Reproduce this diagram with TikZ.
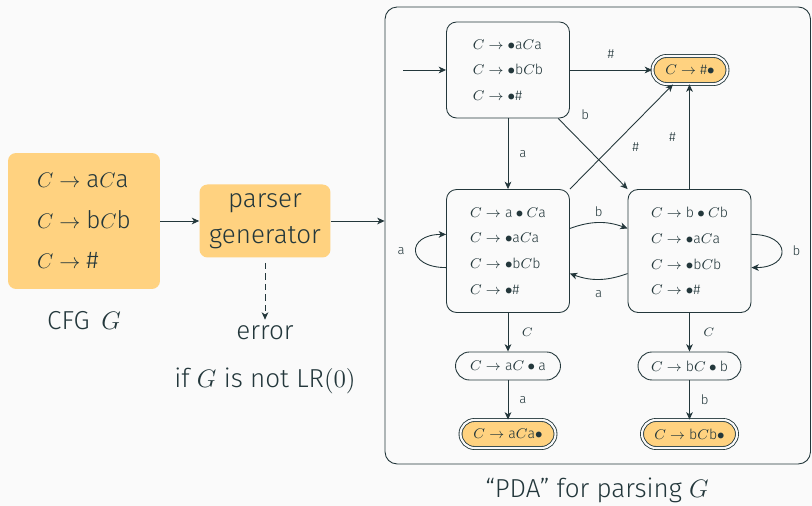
\documentclass[tikz,border=0pt]{standalone}
\usepackage{amsmath}
\usepackage{fontspec}
\setmainfont{Fira Sans Light}
\usetikzlibrary{arrows.meta, positioning}
\DeclareMathSizes{14.8}{14}{10}{7}
\DeclareMathSizes{13.8}{12.8}{9}{7}

\definecolor{mdark}{HTML}{23373B}
\definecolor{mfill}{HTML}{FFD280}
\definecolor{mback}{HTML}{FAFAFA}

\newcommand{\sy}[1]{\textup{#1}}

\tikzset{
  blob/.style={fill=mfill, rounded corners=0.16cm, align=center, text=mdark},
  big/.style={text=mdark, font=\fontsize{14.8}{17}\selectfont},
  pstate/.style={draw=mdark, line width=0.5pt, rounded corners=0.2cm, align=left, text=mdark, font=\fontsize{8}{14.6}\selectfont, execute at begin node={\rule{0pt}{12.5pt}}},
  pitem/.style={draw=mdark, line width=0.5pt, rounded corners=0.28cm, text=mdark, font=\fontsize{8}{9}\selectfont, minimum height=0.56cm},
  accstate/.style={pitem, fill=mfill, double=mback, double distance=1.2pt},
  trans/.style={draw=mdark, line width=0.5pt, -{Stealth[length=4.2pt, width=3.8pt, inset=1.2pt]}},
  lbl/.style={text=mdark, font=\fontsize{7.5}{9}\selectfont},
}

\begin{document}
\begin{tikzpicture}[x=0.02cm, y=0.02cm]
        \useasboundingbox[fill=mback] (0,0) rectangle (812,506);

        % Grammar and generator
        \node[blob, big, font=\fontsize{13.8}{23}\selectfont, align=left, minimum width=3.04cm, minimum height=2.72cm] (cfg) at (84,285) {$C \to \sy{a}C\sy{a}$\\ $C \to \sy{b}C\sy{b}$\\ $C \to \sy{\#}$};
        \node[big] (cfglabel) at (84,185) {CFG~\,$G$};

        \node[blob, big, font=\fontsize{14.8}{20.5}\selectfont, minimum width=2.62cm, minimum height=1.46cm] (gen) at (265,285) {parser\\generator};
        \node[big] (err) at (265,173) {error};
        \node[big] (cond) at (265,125) {if $G$ is not LR$(0)$};

        \draw[trans] (cfg) -- (gen);
        \draw[trans, dash pattern=on 3.5pt off 2.5pt, shorten <=0.1cm] (gen) -- (err);

        % PDA frame
        \node[draw=mdark, line width=0.5pt, rounded corners=0.24cm, minimum width=8.51cm, minimum height=9.14cm] (pda) at (597.75,270.5) {};
        \node[big] (pdalabel) at (597,16) {“PDA” for parsing $G$};
        \draw[trans] (gen.east) -- (gen.east -| pda.west);

        % States
        \node[pstate, minimum width=2.46cm, minimum height=1.92cm] (s0) at (508,436) {$C \to \bullet\sy{a}C\sy{a}$\\ $C \to \bullet\sy{b}C\sy{b}$\\ $C \to \bullet\sy{\#}$};
        \node[accstate, minimum width=1.5cm] (sh) at (690,436) {$C \to \sy{\#}\bullet$};

        \node[pstate, minimum width=2.46cm, minimum height=2.46cm] (sa) at (508,255) {$C \to \sy{a}\bullet C\sy{a}$\\ $C \to \bullet\sy{a}C\sy{a}$\\ $C \to \bullet\sy{b}C\sy{b}$\\ $C \to \bullet\sy{\#}$};
        \node[pstate, minimum width=2.46cm, minimum height=2.46cm] (sb) at (689.5,255) {$C \to \sy{b}\bullet C\sy{b}$\\ $C \to \bullet\sy{a}C\sy{a}$\\ $C \to \bullet\sy{b}C\sy{b}$\\ $C \to \bullet\sy{\#}$};

        \node[pitem, minimum width=2.1cm] (sa2) at (508,140) {$C \to \sy{a}C\bullet\sy{a}$};
        \node[accstate, minimum width=1.9cm] (sa3) at (508,72) {$C \to \sy{a}C\sy{a}\bullet$};
        \node[pitem, minimum width=2.06cm] (sb2) at (689.5,140) {$C \to \sy{b}C\bullet\sy{b}$};
        \node[accstate, minimum width=1.9cm] (sb3) at (689.5,72) {$C \to \sy{b}C\sy{b}\bullet$};

        % Transitions
        \coordinate (init) at (403,436);
        \draw[trans] (init) -- (s0);
        \draw[trans] (s0) -- node[lbl, above=0.1cm] {\#} (sh);
        \draw[trans] (s0) -- node[lbl, right=0.1cm] {a} (sa);
        \draw[trans] (s0.-44) -- node[lbl, pos=0.1, above right, xshift=0.2cm] {b} (sb.north west);
        \draw[trans] (sa.north east) -- node[lbl, pos=0.4, right=0.3cm] {\#} ([xshift=-0.34cm]sh.south);
        \draw[trans] (sb.north) -- node[lbl, left=0.15cm] {\#} (sb.north |- sh.south);
        \draw[trans] (sa.195) to[out=180, in=180, distance=0.8cm] node[lbl, left=0.1cm] {a} (sa.165);
        \draw[trans] (sb.15) to[out=0, in=0, distance=0.8cm] node[lbl, right=0.1cm] {b} (sb.-15);
        \draw[trans] (sa.20) to[bend left=20] node[lbl, above] {b} (sb.160);
        \draw[trans] (sb.-160) to[bend left=20] node[lbl, below=0.1cm] {a} (sa.-20);
        \draw[trans] (sa) -- node[lbl, right=0.15cm] {$C$} (sa2);
        \draw[trans] (sa2) -- node[lbl, right=0.1cm] {a} (sa3);
        \draw[trans] (sb) -- node[lbl, right=0.15cm] {$C$} (sb2);
        \draw[trans] (sb2) -- node[lbl, right=0.1cm] {b} (sb3);
\end{tikzpicture}
\end{document}
